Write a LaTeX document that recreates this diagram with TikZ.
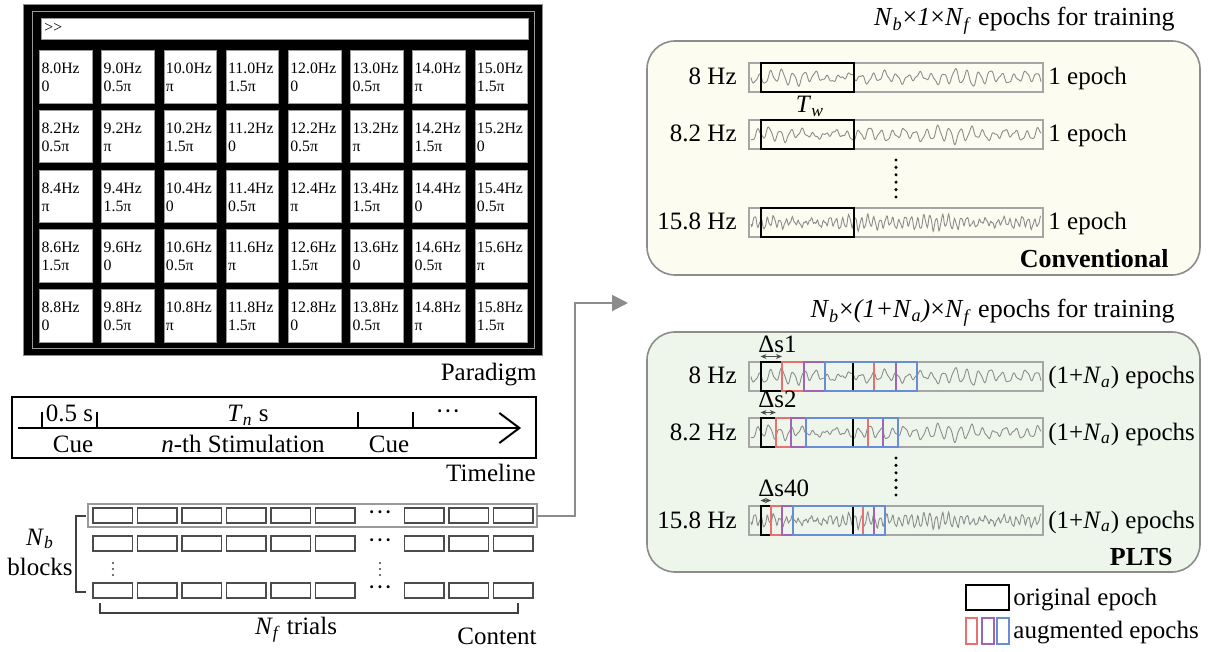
\documentclass[tikz,border=0pt]{standalone}
\usepackage{fontspec}
\setmainfont{Liberation Serif}
\usetikzlibrary{arrows.meta}

\definecolor{convfill}{RGB}{252,252,241}
\definecolor{pltsfill}{RGB}{238,246,236}
\definecolor{winred}{RGB}{232,112,112}
\definecolor{winpurple}{RGB}{160,100,180}
\definecolor{winblue}{RGB}{105,140,215}

\newcommand\Nsub[1]{\textit{N}\textsubscript{\textit{#1}}}

\tikzset{
  lbl/.style={font=\fontsize{12.5}{15}\selectfont, inner sep=0pt},
  celltxt/.style={font=\fontsize{7.9}{9}\selectfont, inner sep=0pt, anchor=base west},
  trial/.style={draw=black!70, line width=0.6pt},
  panel/.style={draw=black!45, line width=0.8pt, rounded corners=14pt},
  sigbox/.style={draw=black!35, line width=0.6pt},
  wave/.style={draw=black!45, line width=0.45pt},
  win/.style={line width=1pt},
  link/.style={draw=black!45, line width=1pt, -{Triangle[length=8pt,width=8pt]}},
}

\begin{document}
\begin{tikzpicture}[x=0.5pt,y=-0.5pt]
  \useasboundingbox (0,0) rectangle (1216,652);

  %%%%%%%%%%%%%%%%%%%%%%%%%%%%%%%%%%%%%%%%%%%%%%%%%%%%%%%%%%%%%%%%%%%%%%%%%%%
  %%%%  Paradigm
  \draw[black!45, fill=black] (23,4) rectangle (542,355);
  \draw[black!40] (32,11) rectangle (534,348);
  \draw[black!40, fill=white] (41,18) rectangle (528,39);
  \node[celltxt] (prompt) at (44,33) {>{}>};

  \foreach \i in {0,...,7}
  {\foreach \j in {0,...,4}
   {\pgfmathsetmacro\cx{39.6 + 62.2*\i}
    \pgfmathsetmacro\cy{50.7 + 59.7*\j}
    \pgfmathtruncatemacro\fint{8 + \i}
    \pgfmathtruncatemacro\fdec{2*\j}
    \pgfmathtruncatemacro\ph{mod(\i + \j,4)}

    \draw[black!40, fill=white] (\cx,\cy) rectangle ++(52.5,52.5);
    \node[celltxt] (cellf\i\j) at (\cx+1.5,\cy+23) {\fint.\fdec Hz};
    \node[celltxt] (cellp\i\j) at (\cx+1.5,\cy+41)
      {\ifcase\ph\relax 0\or 0.5π\or π\or 1.5π\fi};
  }};
  \node[lbl, anchor=base east] (paradigm) at (537,380) {Paradigm};

  %%%%%%%%%%%%%%%%%%%%%%%%%%%%%%%%%%%%%%%%%%%%%%%%%%%%%%%%%%%%%%%%%%%%%%%%%%%
  %%%%  Timeline
  \draw[line width=0.8pt] (12,397) rectangle (536,458);
  \coordinate (tstart) at (18,428);
  \coordinate (tend) at (521,428);
  \draw[line width=1pt, -{Straight Barb[length=10pt,width=15pt,line width=1pt]}]
    (tstart) -- (tend);
  \foreach \t in {42,97,358,413}
   {\draw[line width=1pt] (\t,428) -- (\t,412);};
  \node[lbl, anchor=base] (thalf) at (69.5,422) {0.5 s};
  \node[lbl, anchor=base] (tstim) at (248,422) {\textit{T}\textsubscript{\textit{n}} s};
  \node[lbl, anchor=base] (tmore) at (448,419) {···};
  \node[lbl, anchor=base] (cue1) at (73,452) {Cue};
  \node[lbl, anchor=base] (nstim) at (243,452) {\textit{n}-th Stimulation};
  \node[lbl, anchor=base] (cue2) at (389,452) {Cue};
  \node[lbl, anchor=base east] (timeline) at (536,481) {Timeline};

  %%%%%%%%%%%%%%%%%%%%%%%%%%%%%%%%%%%%%%%%%%%%%%%%%%%%%%%%%%%%%%%%%%%%%%%%%%%
  %%%%  Content
  \foreach \y in {508,536,583}
  {\foreach \k in {0,1,2,3,4,5,7,8,9}
   {\draw[trial] ({93 + 44.5*\k},\y) rectangle ++(39.5,15);};
   \node[lbl, anchor=base] at (380,\y+12) {···};
  };
  \foreach \x in {113,380}
  {\foreach \d in {0,1,2}
   {\fill[black!75] (\x,{563 + 6*\d}) circle (1.1);}};

  \draw[black!40, line width=1pt] (88,504) rectangle (537,527);
  \coordinate (blkout) at (537,515.5);

  \draw[black!75, line width=0.8pt] (86,516) -- (76,516) -- (76,592) -- (86,592);
  \node[lbl, align=center] (blocks) at (40,552) {\Nsub{b}\\blocks};
  \draw[black!75, line width=0.8pt] (100,603) -- (100,613) -- (518,613) -- (518,603);
  \node[lbl, anchor=base] (trials) at (296,634) {\Nsub{f} trials};
  \node[lbl, anchor=base east] (content) at (537,644) {Content};

  %%%%%%%%%%%%%%%%%%%%%%%%%%%%%%%%%%%%%%%%%%%%%%%%%%%%%%%%%%%%%%%%%%%%%%%%%%%
  %%%%  Link to PLTS
  \coordinate (pltsin) at (628,303);
  \draw[link] (blkout) -| (575,303) -- (pltsin);

  %%%%%%%%%%%%%%%%%%%%%%%%%%%%%%%%%%%%%%%%%%%%%%%%%%%%%%%%%%%%%%%%%%%%%%%%%%%
  %%%%  Panels
  \draw[panel, fill=convfill] (647,41) rectangle (1200,275);
  \draw[panel, fill=pltsfill] (647,332) rectangle (1200,572);
  \node[lbl, anchor=base east, font=\fontsize{13}{15}\selectfont] (convtitle) at (1175,26)
    {\Nsub{b}×\textit{1}×\Nsub{f} epochs for training};
  \node[lbl, anchor=base east, font=\fontsize{13}{15}\selectfont] (pltstitle) at (1175,318)
    {\Nsub{b}×\textit{(1+}\Nsub{a}\textit{)}×\Nsub{f} epochs for training};
  \node[lbl, anchor=base east, font=\bfseries\fontsize{13}{15}\selectfont] (conv) at (1169,268) {Conventional};
  \node[lbl, anchor=base east, font=\bfseries\fontsize{13}{15}\selectfont] (plts) at (1173,565) {PLTS};

  %%%%  signals
  \foreach \yt/\per/\ph/\f/\ep in {63/11.5/0/8/c, 120/11.1/55/8.2/c, 208/6.2/110/15.8/c,
                                   362/11.5/0/8/p, 418/11.1/55/8.2/p, 506/6.2/110/15.8/p}
  {\draw[sigbox] (749,\yt) rectangle (1043,\yt+29);
   \draw[wave] plot[domain=0:290, samples=450]
     ({751+\x},{\yt + 14.5 + (4.5+2.7*sin(2.9*\x+\ph)*sin(1.3*\x))
         *sin(360*mod(\x,\per)/\per + 50*sin(0.9*\x+\ph))
       + 1.1*sin(360*mod(\x,0.45*\per)/(0.45*\per) + 3*\ph)
       + 2*sin(360*mod(\x,3.1*\per)/(3.1*\per) + 2*\ph)});
   \node[lbl, anchor=base east] (hz\ep\yt) at (737,\yt+22) {\f\ Hz};
  };
  \foreach \yt in {63,120,208}
  {\draw[win, black] (760.5,\yt) rectangle ++(93,29);
   \node[lbl, anchor=base west] (ep\yt) at (1048,\yt+22) {1 epoch};
  };
  \node[lbl, anchor=base] (tw) at (810,113) {\textit{T}\textsubscript{\textit{w}}};

  \foreach \yt/\sh/\n in {362/21.5/1, 418/15.3/2, 506/10.7/40}
  {\foreach \k/\col in {0/black, 1/winred, 2/winpurple, 3/winblue}
    {\draw[win, \col] ({760.5 + \k*\sh},\yt) rectangle ++(92,29);};
   \draw[black!70, line width=0.5pt, {Stealth[length=3pt,width=2.5pt]}-{Stealth[length=3pt,width=2.5pt]}]
     (760.5,\yt-5.5) -- ({760.5 + \sh},\yt-5.5);
   \node[lbl, anchor=base west] (ds\n) at (758,\yt-10) {Δs\n};
   \node[lbl, anchor=base west] (aug\n) at (1048,\yt+22) {(1+\Nsub{a}) epochs};
  };

  %%%%  vertical dots
  \foreach \y in {160,458}
  {\foreach \d in {0,...,5}
   {\fill (896,{\y + 7.4*\d}) circle (1.7);}};

  %%%%%%%%%%%%%%%%%%%%%%%%%%%%%%%%%%%%%%%%%%%%%%%%%%%%%%%%%%%%%%%%%%%%%%%%%%%
  %%%%  Legend
  \draw[win, black] (966,585) rectangle (1009,610);
  \node[lbl, anchor=base west] (legorig) at (1013,605) {original epoch};
  \draw[win, winred] (966,618) rectangle (977,644);
  \draw[win, winpurple] (982,618) rectangle (994,644);
  \draw[win, winblue] (997,618) rectangle (1009,644);
  \node[lbl, anchor=base west] (legaug) at (1013,638) {augmented epochs};
\end{tikzpicture}
\end{document}
